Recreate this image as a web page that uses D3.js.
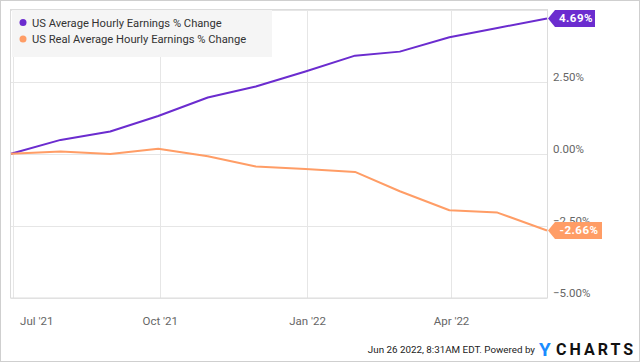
<!DOCTYPE html>
<html><head><meta charset="utf-8">
<script src="https://cdn.jsdelivr.net/npm/d3@7"></script>
<style>
html,body{margin:0;padding:0;background:#fff;}
svg{display:block;font-family:Roboto,"Noto Sans",sans-serif;}
</style></head>
<body>
<svg id="chart" width="640" height="362"></svg>
<script>
// Data
const dates = ["2021-06-30","2021-07-31","2021-08-31","2021-09-30","2021-10-31","2021-11-30",
               "2021-12-31","2022-01-31","2022-02-28","2022-03-31","2022-04-30","2022-05-31"];
const nominal = [0, 0.48, 0.77, 1.31, 1.95, 2.33, 2.85, 3.40, 3.54, 4.04, 4.36, 4.69];
const real    = [0, 0.08, -0.01, 0.17, -0.09, -0.44, -0.53, -0.63, -1.30, -1.96, -2.04, -2.66];
const seriesNames = ["US Average Hourly Earnings % Change", "US Real Average Hourly Earnings % Change"];
const seriesColors = ["#6b2ccf", "#ff9d66"];
const yTicks = [-5, -2.5, 0, 2.5];
const xTickDates = ["2021-07-01","2021-10-01","2022-01-01","2022-04-01"];
const xTickLabels = ["Jul '21","Oct '21","Jan '22","Apr '22"];
const lastLabels = ["4.69%", "-2.66%"];

const parse = d3.timeParse("%Y-%m-%d");
const svg = d3.select("#chart");
const L = 11, R = 547, T = 9.5, B = 298;

const x = d3.scaleTime().domain([parse(dates[0]), parse(dates[dates.length-1])]).range([L, R]);
const y = d3.scaleLinear().domain([-5, 5]).range([B, T]);

// outer border
svg.append("rect").attr("x",0.5).attr("y",0.5).attr("width",639).attr("height",361)
  .attr("fill","none").attr("stroke","#cfcfcf");

// grid
const g = svg.append("g");
g.selectAll("line.h").data(yTicks.concat([5])).join("line")
  .attr("x1",L).attr("x2",R).attr("y1",d=>Math.round(y(d))+0.5).attr("y2",d=>Math.round(y(d))+0.5)
  .attr("stroke","#e6e6e6");
g.selectAll("line.v").data(xTickDates).join("line")
  .attr("x1",d=>Math.round(x(parse(d)))+0.5).attr("x2",d=>Math.round(x(parse(d)))+0.5)
  .attr("y1",T).attr("y2",B).attr("stroke","#e6e6e6");
// frame
svg.append("rect").attr("x",L-0.5).attr("y",T).attr("width",R-L+1).attr("height",B-T)
  .attr("fill","none").attr("stroke","#dcdcdc");

// y axis labels
const yAxis = d3.axisRight(y).tickValues(yTicks).tickSize(0).tickPadding(0)
  .tickFormat(d=>d3.format(".2f")(d)+"%");
const ya = svg.append("g").attr("transform",`translate(${R+6},-5)`).call(yAxis);
ya.select(".domain").remove();
ya.selectAll("text").attr("fill","#666").attr("font-size","11.5px").attr("font-family","Roboto, sans-serif");

// x axis labels
const xAxis = d3.axisBottom(x).tickValues(xTickDates.map(parse)).tickSize(0).tickPadding(0)
  .tickFormat((d,i)=>xTickLabels[i]);
const xa = svg.append("g").attr("transform",`translate(0,${B+19})`).call(xAxis);
xa.select(".domain").remove();
xa.selectAll("text").attr("fill","#666").attr("font-size","11.5px").attr("font-family","Roboto, sans-serif");
xa.selectAll(".tick").filter((d,i)=>i===0).select("text").attr("text-anchor","start").attr("dx", 7);

// lines
const line = d3.line().x((d,i)=>x(parse(dates[i]))).y(d=>y(d));
[nominal, real].forEach((s,k)=>{
  svg.append("path").datum(s).attr("d",line).attr("fill","none")
    .attr("stroke",seriesColors[k]).attr("stroke-width",2).attr("stroke-linejoin","round");
});

// last value flags
[nominal, real].forEach((s,k)=>{
  const v = s[s.length-1];
  const yy = y(v);
  const txt = lastLabels[k];
  const gg = svg.append("g");
  gg.append("text").attr("x", R+9+ (k===0?20:23)).attr("y", yy+4).attr("text-anchor","middle")
    .attr("fill","#fff").attr("font-weight","bold").attr("font-size","11.5px")
    .attr("letter-spacing","0.5px").text(txt);
  const w = k===0 ? 40 : 47;
  const x0 = R+8, h = 17;
  gg.insert("path","text").attr("d",`M${R+1},${yy} L${x0},${yy-h/2} L${x0+w},${yy-h/2} L${x0+w},${yy+h/2} L${x0},${yy+h/2} Z`)
    .attr("fill",seriesColors[k]);
});

// legend
const lg = svg.append("g");
lg.append("rect").attr("x",12).attr("y",10).attr("width",260).attr("height",47).attr("fill","#f5f5f5");
seriesNames.forEach((n,i)=>{
  lg.append("circle").attr("cx",23).attr("cy",22.5+i*16.5).attr("r",3.5).attr("fill",seriesColors[i]);
  lg.append("text").attr("x",32).attr("y",26.8+i*16.5).attr("font-size","11.2px").attr("fill","#333").text(n);
});

// footer
svg.append("text").attr("x",535).attr("y",353).attr("text-anchor","end").attr("font-size","9.8px")
  .attr("fill","#222").attr("font-family","Roboto, sans-serif").text("Jun 26 2022, 8:31AM EDT.  Powered by");
svg.append("text").attr("x",539).attr("y",355.5).attr("font-size","19px").attr("font-weight","bold")
  .attr("fill","#1a8cff").attr("font-family","Roboto, sans-serif").text("Y");
svg.append("text").attr("x",556).attr("y",355).attr("font-size","16px").attr("font-weight","bold")
  .attr("fill","#111").attr("letter-spacing","3px").attr("font-family","Roboto, sans-serif").text("CHARTS");
</script>
</body></html>
